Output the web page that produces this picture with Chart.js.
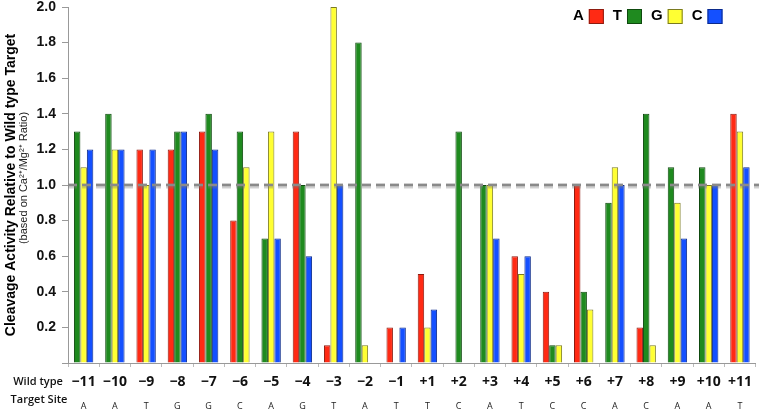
<!DOCTYPE html>
<html>
<head>
<meta charset="utf-8">
<script src="https://cdn.jsdelivr.net/npm/chart.js@4"></script>
<style>
  html, body { margin: 0; padding: 0; background: #fff; }
  #wrap { width: 759px; height: 409px; }
</style>
</head>
<body>
<div id="wrap"><canvas id="cleavageChart"></canvas></div>
<script>
// positions along the target site, and the wild type base at each one
const positions = ["−11", "−10", "−9", "−8", "−7", "−6", "−5", "−4", "−3", "−2", "−1",
                   "+1", "+2", "+3", "+4", "+5", "+6", "+7", "+8", "+9", "+10", "+11"];
const wildType = ["A", "A", "T", "G", "G", "C", "A", "G", "T", "A", "T",
                  "T", "C", "A", "T", "C", "C", "A", "C", "A", "A", "T"];

// activity per substituted base (null = the wild type base itself)
const baseA = [null, null, 1.2, 1.2, 1.3, 0.8, null, 1.3, 0.1, null, 0.2,
               0.5, 0, null, 0.6, 0.4, 1.0, null, 0.2, null, null, 1.4];
const baseT = [1.3, 1.4, null, 1.3, 1.4, 1.3, 0.7, 1.0, null, 1.8, null,
               null, 1.3, 1.0, null, 0.1, 0.4, 0.9, 1.4, 1.1, 1.1, null];
const baseG = [1.1, 1.2, 1.0, null, null, 1.1, 1.3, null, 2.0, 0.1, 0,
               0.2, 0, 1.0, 0.5, 0.1, 0.3, 1.1, 0.1, 0.9, 1.0, 1.3];
const baseC = [1.2, 1.2, 1.2, 1.3, 1.2, null, 0.7, 0.6, 1.0, 0, 0.2,
               0.3, null, 0.7, 0.6, null, null, 1.0, null, 0.7, 1.0, 1.1];

const yTicks = [0.2, 0.4, 0.6, 0.8, 1.0, 1.2, 1.4, 1.6, 1.8, 2.0];

// colours for A, T, G, C
const bases = [
    { name: "A", values: baseA, fill: "#ff2a14", line: "#8e1b10" },
    { name: "T", values: baseT, fill: "#1f8a1f", line: "#0e4a0e" },
    { name: "G", values: baseG, fill: "#ffff33", line: "#7a7a20" },
    { name: "C", values: baseC, fill: "#1450ff", line: "#0b2a8a" }
];

// each position shows the three non wild type bases side by side
const slots = [0, 1, 2].map(() => ({ data: [], backgroundColor: [], borderColor: [] }));
positions.forEach((p, i) => {
    const present = bases.filter(b => b.values[i] !== null);
    present.forEach((b, k) => {
        slots[k].data.push(b.values[i]);
        slots[k].backgroundColor.push(b.fill);
        slots[k].borderColor.push(b.line);
    });
});

const datasets = slots.map((s, k) => ({
    label: "slot" + k,
    data: s.data,
    backgroundColor: s.backgroundColor,
    borderColor: s.borderColor,
    borderWidth: 1,
    barPercentage: 1.0,
    categoryPercentage: 0.62
}));

// dashed reference line at 1.0, drawn over the bars
const refLine = {
    id: "refLine",
    afterDatasetsDraw(chart) {
        const { ctx, chartArea } = chart;
        const y = chart.scales.y.getPixelForValue(1.0);
        ctx.save();
        ctx.strokeStyle = "rgba(120,120,120,0.35)";
        ctx.lineWidth = 5;
        ctx.setLineDash([9, 5]);
        ctx.beginPath();
        ctx.moveTo(chartArea.left, y + 1);
        ctx.lineTo(chart.width, y + 1);
        ctx.stroke();
        ctx.strokeStyle = "#8a8a8a";
        ctx.lineWidth = 2.5;
        ctx.beginPath();
        ctx.moveTo(chartArea.left, y);
        ctx.lineTo(chart.width, y);
        ctx.stroke();
        ctx.restore();
    }
};

// legend (letter before box), axis titles and row captions
const extras = {
    id: "extras",
    afterDraw(chart) {
        const { ctx, chartArea } = chart;
        ctx.save();
        // legend
        ctx.font = "bold 15px Arial";
        ctx.textBaseline = "middle";
        let x = 573;
        bases.forEach(b => {
            ctx.fillStyle = "#000";
            ctx.textAlign = "left";
            ctx.fillText(b.name, x, 16);
            x += ctx.measureText(b.name).width + 5;
            ctx.fillStyle = b.fill;
            ctx.strokeStyle = b.line;
            ctx.lineWidth = 1;
            ctx.fillRect(x, 9, 15, 15);
            ctx.strokeRect(x + 0.5, 9.5, 14, 14);
            x += 15 + 9;
        });

        // y axis title
        const cy = (chartArea.top + chartArea.bottom) / 2;
        ctx.translate(11, cy);
        ctx.rotate(-Math.PI / 2);
        ctx.textAlign = "center";
        ctx.fillStyle = "#000";
        ctx.font = "bold 14px Arial";
        ctx.fillText("Cleavage Activity Relative to Wild type Target", 0, 0);
        ctx.font = "11px Arial";
        ctx.fillStyle = "#222";
        ctx.fillText("(based on Ca²⁺/Mg²⁺ Ratio)", 7, 13);
        ctx.restore();

        // row captions under the axis
        ctx.save();
        ctx.fillStyle = "#111";
        ctx.textAlign = "center";
        ctx.textBaseline = "middle";
        ctx.font = "600 11px 'Open Sans'";
        ctx.fillText("Wild type", 38, 382);
        ctx.fillText("Target Site", 39, 400);
        ctx.restore();
    }
};

const ctx = document.getElementById("cleavageChart").getContext("2d");
new Chart(ctx, {
    type: "bar",
    data: { labels: positions, datasets: datasets },
    options: {
        responsive: true,
        maintainAspectRatio: false,
        animation: false,
        layout: { padding: { top: 7, right: 2, left: 0, bottom: 0 } },
        plugins: {
            legend: { display: false },
            tooltip: { enabled: false }
        },
        scales: {
            x: {
                position: "bottom",
                weight: 1,
                grid: { display: true, drawOnChartArea: false, offset: true, tickLength: 4, color: "#bbb" },
                border: { display: true, color: "#999" },
                ticks: {
                    color: "#111",
                    font: { family: "'Open Sans'", size: 14, weight: "bold" },
                    padding: 7,
                    maxRotation: 0,
                    autoSkip: false
                },
                afterFit(scale) { scale.height = 30; }
            },
            x2: {
                type: "category",
                position: "bottom",
                weight: 2,
                labels: wildType,
                offset: true,
                grid: { display: false },
                border: { display: false },
                ticks: {
                    color: "#222",
                    font: { family: "'Open Sans'", size: 9 },
                    padding: 0,
                    maxRotation: 0,
                    autoSkip: false
                },
                afterFit(scale) { scale.height = 16; }
            },
            y: {
                min: 0,
                max: 2.0,
                grid: { drawOnChartArea: false, tickLength: 6, color: "#999" },
                border: { color: "#999" },
                afterBuildTicks(scale) {
                    scale.ticks = [{ value: 0 }].concat(yTicks.map(v => ({ value: v })));
                },
                ticks: {
                    color: "#111",
                    font: { family: "Arial", size: 14, weight: "bold" },
                    padding: 6,
                    callback: v => v === 0 ? "" : v.toFixed(1)
                },
                afterFit(scale) {
                    scale.width = 68;
                    scale.paddingTop = 0;
                    scale.paddingBottom = 0;
                }
            }
        }
    },
    plugins: [refLine, extras]
});
</script>
</body>
</html>
